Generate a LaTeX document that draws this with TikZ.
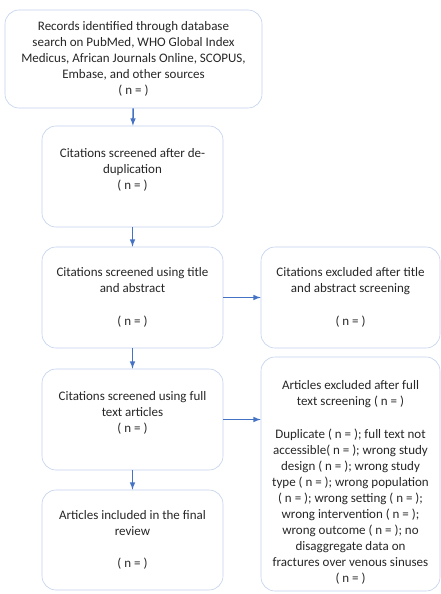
\documentclass[tikz,border=0pt]{standalone}
\usepackage{fontspec}
\setmainfont{Carlito}
\usepackage{tikz}
\usetikzlibrary{shapes,arrows}
\definecolor{boxline}{RGB}{192,208,236}
\definecolor{arrowblue}{RGB}{68,114,196}

\begin{document}
\begin{tikzpicture}[x=1pt,y=-1pt,
                    every path/.style={>=latex},
                    box/.style={draw=boxline,rounded corners=14pt,line width=0.6pt,align=center,inner sep=0pt,
                                text=black!85,font=\fontsize{13}{16}\selectfont},
                    flow/.style={->,draw=arrowblue,line width=1.5pt}]
  \useasboundingbox (0,0) rectangle (441,594);
  \node[box,minimum width=257,minimum height=98]  (rec)      at (133.5,59)  {Records identified through database\\search on PubMed, WHO Global Index\\Medicus, African Journals Online, SCOPUS,\\Embase, and other sources\\( n = )};
  \node[box,minimum width=181,minimum height=101] (dedup)    at (132.5,176.5) {Citations screened after de-\\duplication\\( n = )\\~};
  \node[box,minimum width=181,minimum height=101] (tiab)     at (132.5,297.5) {Citations screened using title\\and abstract\\[16.5pt]( n = )};
  \node[box,minimum width=181,minimum height=101] (fulltext) at (132.5,419.5) {Citations screened using full\\text articles\\( n = )\\~};
  \node[box,minimum width=181,minimum height=100] (incl)     at (132.5,540)   {Articles included in the final\\review\\[16.5pt]( n = )};
  \node[box,minimum width=179,minimum height=101] (extiab)   at (350.5,297.5) {Citations excluded after title\\and abstract screening\\[16.5pt]( n = )};
  \node[box,minimum width=179,minimum height=234] (exfull)   at (350.5,474)   {\rule{0pt}{26pt}Articles excluded after full\\text screening ( n = )\\[16.5pt]Duplicate ( n = ); full text not\\accessible( n = ); wrong study\\design ( n = ); wrong study\\type ( n = ); wrong population\\( n = ); wrong setting ( n = );\\wrong intervention ( n = );\\wrong outcome ( n = ); no\\disaggregate data on\\fractures over venous sinuses\\( n = )};
  \draw[flow] (rec) -- (dedup);
  \draw[flow] (dedup) -- (tiab);
  \draw[flow] (tiab) -- (fulltext);
  \draw[flow] (fulltext) -- (incl);
  \draw[flow] (tiab) -- (extiab);
  \draw[flow] (fulltext.east) -- (fulltext.east -| exfull.west);
\end{tikzpicture}
\end{document}
